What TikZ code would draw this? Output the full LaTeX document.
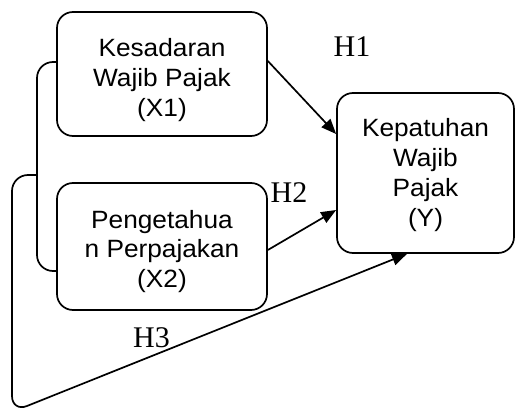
\documentclass[tikz,border=0pt]{standalone}
\usepackage{fontspec}
\setmainfont{Liberation Serif}
\newfontfamily\boxfont[FakeStretch=1.05]{Liberation Sans}
\usetikzlibrary{arrows.meta}
\tikzset{
  boxnode/.style={draw, line width=1.7pt, rounded corners=16pt, inner sep=0pt},
  txt/.style={align=center, font=\boxfont\fontsize{25}{30}\selectfont, inner sep=0pt},
  hlab/.style={font=\fontsize{30}{30}\selectfont, anchor=base, inner sep=0pt},
  conn/.style={line width=1.7pt, -{Triangle[length=15pt,width=12pt]}},
  brk/.style={line width=1.7pt, rounded corners=16pt}
}
\begin{document}
\begin{tikzpicture}[x=1pt,y=-1pt]
\useasboundingbox (0,0) rectangle (515,414);
\node[boxnode, minimum width=210pt, minimum height=124pt] (X1) at (162,74) {};
\node[boxnode, minimum width=210pt, minimum height=127pt] (X2) at (162,246.5) {};
\node[boxnode, minimum width=177pt, minimum height=160pt] (Y) at (425.5,173) {};
\node[txt] (X1t) at ([yshift=-6.5pt]X1.center) {Kesadaran\\Wajib Pajak\\(X1)};
\node[txt, font=\boxfont\fontsize{25}{29.3}\selectfont] (X2t) at ([yshift=-5pt]X2.center) {Pengetahua\\n Perpajakan\\(X2)};
\node[txt] (Yt) at ([yshift=-2pt]Y.center) {Kepatuhan\\Wajib\\Pajak\\(Y)};
\node[hlab] (H1) at (352,57) {H1};
\node[hlab] (H2) at (289,203) {H2};
\node[hlab] (H3) at (151.5,348) {H3};
\coordinate (b1) at (37,175);
\draw[brk] ([yshift=12pt]X1.west) -- (37,62) -- (37,271) -- ([yshift=-24.5pt]X2.west);
\draw[brk, conn] (b1) -- (12,175) -- (12,412) -- ([xshift=-18.5pt]Y.south);
\draw[conn] ([yshift=13pt]X1.east) -- ([yshift=39pt]Y.west);
\draw[conn] ([yshift=-3.5pt]X2.east) -- ([yshift=-37pt]Y.west);
\end{tikzpicture}
\end{document}
